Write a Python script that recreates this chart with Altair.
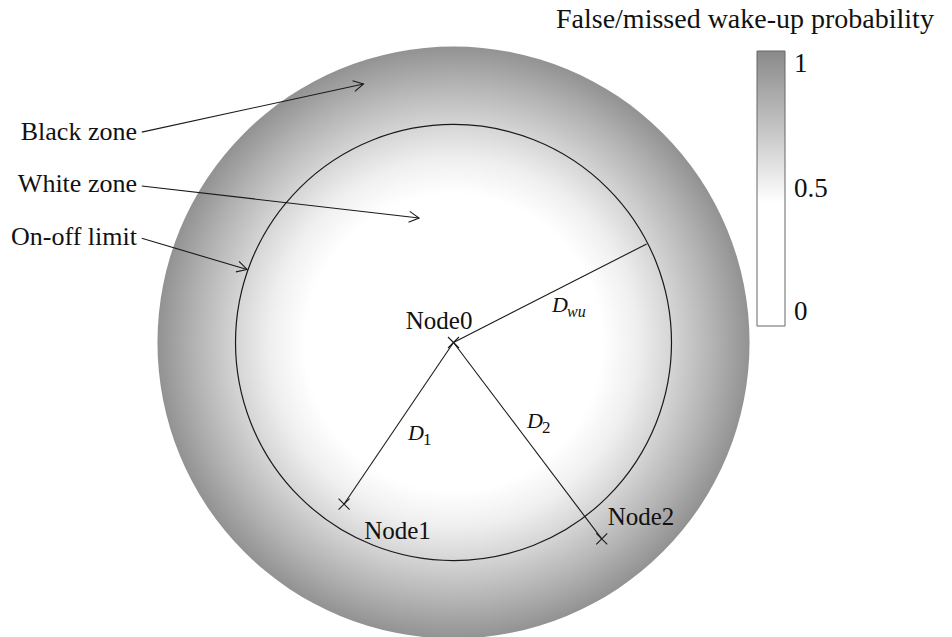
import altair as alt
import pandas as pd
import numpy as np

# ---------------- data (units: wake-up distance D_wu = 1, Node0 at origin) -------------
node_names = ["Node0", "Node1", "Node2"]
node_x = [0.0, -0.502, 0.680]
node_y = [0.0, -0.741, -0.901]
node_label_x = [-0.066, -0.257, 0.860]
node_label_y = [0.064, -0.901, -0.837]

dwu_end_x = 0.886
dwu_end_y = 0.452
r_onoff = 1.0          # on-off limit radius (D_wu)
r_outer = 1.358        # outer edge of the black zone

dist_main = ["D", "D", "D"]
dist_sub = ["wu", "1", "2"]
dist_x = [0.452, -0.209, 0.337]
dist_y = [0.140, -0.447, -0.392]

zone_labels = ["Black zone", "White zone", "On-off limit"]
zone_label_x = [-1.452, -1.452, -1.452]
zone_label_y = [0.929, 0.690, 0.447]
arrow_x0 = [-1.430, -1.430, -1.430]
arrow_y0 = [0.965, 0.718, 0.478]
arrow_x1 = [-0.413, -0.158, -0.947]
arrow_y1 = [1.186, 0.571, 0.335]

prob_ticks = [0, 0.5, 1]
prob_scale_domain = [0, 0.45, 1]
prob_scale_range = ["#ffffff", "#ffffff", "#8a8a8a"]

grad_offsets = [0.0, 0.50, 0.62, 0.74, 0.87, 1.0]
grad_colors = ["#ffffff", "#ffffff", "#efefef", "#d4d4d4", "#b4b4b4", "#929292"]

legend_title = "False/missed wake-up probability"
title_x, title_y = 0.470, 1.443

# ---------------- layout -----------------------------------------------------------------
W, H = 936, 629
XMIN = -2.0436
XMAX = XMIN + W / 218.0
YMAX = 1.5344
YMIN = YMAX - H / 218.0
k = W / (XMAX - XMIN)   # pixels per unit

xs = alt.Scale(domain=[XMIN, XMAX], nice=False, zero=False)
ys = alt.Scale(domain=[YMIN, YMAX], nice=False, zero=False)
X = alt.X("x:Q", scale=xs, axis=None)
Y = alt.Y("y:Q", scale=ys, axis=None)

FONT = "Liberation Serif"
INK = "#1a1a1a"

# big shaded disc
disc_df = pd.DataFrame({"x": [0.0], "y": [0.0]})
gradient = alt.RadialGradient(
    gradient="radial",
    stops=[alt.GradientStop(offset=o, color=c) for o, c in zip(grad_offsets, grad_colors)],
    x1=0.5, y1=0.5, r1=0, x2=0.5, y2=0.5, r2=0.5,
)
disc = alt.Chart(disc_df).mark_point(
    shape="circle", filled=True, fill=gradient, size=(2 * r_outer * k) ** 2,
    opacity=1, strokeWidth=0,
).encode(x=X, y=Y)

# legend carrier (invisible points)
leg_df = pd.DataFrame({"x": [0.0] * 3, "y": [0.0] * 3, "p": prob_ticks})
legend_layer = alt.Chart(leg_df).mark_point(size=0, filled=True, opacity=1).encode(
    x=X, y=Y,
    color=alt.Color(
        "p:Q",
        scale=alt.Scale(domain=prob_scale_domain, range=prob_scale_range),
        legend=alt.Legend(
            title=None, orient="none", legendX=749, legendY=43, direction="vertical",
            gradientLength=275, gradientThickness=28, gradientStrokeColor="#666666",
            gradientStrokeWidth=1, values=prob_ticks, labelExpr="datum.value",
            labelFont=FONT, labelFontSize=27, labelColor="#111111", labelOffset=9,
            labelBaseline={"expr": "datum.value == 0 ? 'middle' : 'top'"},
        ),
    ),
)

# on-off limit circle
ring = alt.Chart(disc_df).mark_point(
    shape="circle", filled=False, size=(2 * r_onoff * k) ** 2,
    stroke=INK, strokeWidth=1.2, opacity=1,
).encode(x=X, y=Y)

# distance segments
seg_df = pd.DataFrame({
    "x": [0.0, 0.0, 0.0],
    "y": [0.0, 0.0, 0.0],
    "x2": [dwu_end_x, node_x[1], node_x[2]],
    "y2": [dwu_end_y, node_y[1], node_y[2]],
})
segs = alt.Chart(seg_df).mark_rule(color=INK, strokeWidth=1.1).encode(
    x=X, y=Y, x2="x2:Q", y2="y2:Q"
)

# node markers
nodes_df = pd.DataFrame({"x": node_x, "y": node_y, "name": node_names,
                         "lx": node_label_x, "ly": node_label_y})
cross = "M -1 -1 L 1 1 M -1 1 L 1 -1"
markers = alt.Chart(nodes_df).mark_point(
    shape=cross, filled=False, size=121, stroke=INK, strokeWidth=1.1, opacity=1
).encode(x=X, y=Y)
node_text = alt.Chart(nodes_df).mark_text(
    font=FONT, fontSize=25, align="center", baseline="alphabetic", color="#111111"
).encode(x=alt.X("lx:Q", scale=xs, axis=None), y=alt.Y("ly:Q", scale=ys, axis=None),
         text="name:N")

# distance labels
dist_df = pd.DataFrame({"x": dist_x, "y": dist_y, "m": dist_main, "s": dist_sub})
d_main = alt.Chart(dist_df).mark_text(
    font=FONT, fontSize=22, fontStyle="italic", align="left", baseline="alphabetic",
    color="#111111"
).encode(x=X, y=Y, text="m:N")
d_sub_it = alt.Chart(dist_df.iloc[:1]).mark_text(
    font=FONT, fontSize=16, fontStyle="italic", align="left", baseline="alphabetic",
    color="#111111", dx=15, dy=5
).encode(x=X, y=Y, text="s:N")
d_sub_up = alt.Chart(dist_df.iloc[1:]).mark_text(
    font=FONT, fontSize=17, align="left", baseline="alphabetic",
    color="#111111", dx=15, dy=5
).encode(x=X, y=Y, text="s:N")

# annotation arrows
ang = (np.degrees(np.arctan2(-(np.array(arrow_y1) - np.array(arrow_y0)),
                             np.array(arrow_x1) - np.array(arrow_x0)))) % 360
arr_df = pd.DataFrame({"x": arrow_x0, "y": arrow_y0, "x2": arrow_x1, "y2": arrow_y1,
                       "ang": ang, "label": zone_labels,
                       "lx": zone_label_x, "ly": zone_label_y})
arrow_lines = alt.Chart(arr_df).mark_rule(color=INK, strokeWidth=1.1).encode(
    x=X, y=Y, x2="x2:Q", y2="y2:Q"
)
head = "M -1 -0.55 L 0 0 L -1 0.55"
arrow_heads = alt.Chart(arr_df).mark_point(
    shape=head, filled=False, size=400, stroke=INK, strokeWidth=1.1, opacity=1
).encode(x=alt.X("x2:Q", scale=xs, axis=None), y=alt.Y("y2:Q", scale=ys, axis=None),
         angle=alt.Angle("ang:Q", scale=None))
zone_text = alt.Chart(arr_df).mark_text(
    font=FONT, fontSize=26, align="right", baseline="alphabetic", color="#111111"
).encode(x=alt.X("lx:Q", scale=xs, axis=None), y=alt.Y("ly:Q", scale=ys, axis=None),
         text="label:N")

# colour bar title
title_df = pd.DataFrame({"x": [title_x], "y": [title_y], "t": [legend_title]})
title_text = alt.Chart(title_df).mark_text(
    font=FONT, fontSize=28, align="left", baseline="alphabetic", color="#111111"
).encode(x=X, y=Y, text="t:N")

chart = alt.layer(
    disc, legend_layer, ring, segs, markers, node_text, d_main, d_sub_it, d_sub_up,
    arrow_lines, arrow_heads, zone_text, title_text,
).properties(
    width=W, height=H, padding=0, autosize=alt.AutoSizeParams(type="none")
).configure_view(stroke=None)

chart.save("out.html", embed_options={"renderer": "svg", "actions": False})
